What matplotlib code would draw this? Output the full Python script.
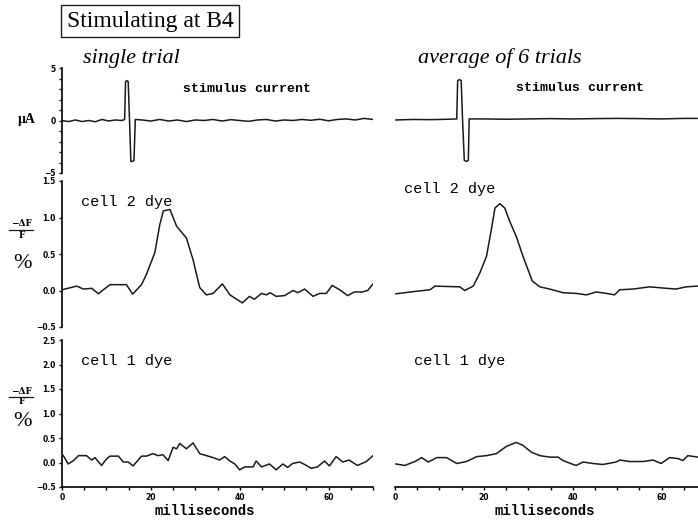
import matplotlib
matplotlib.use("Agg")
import matplotlib.pyplot as plt
from matplotlib.lines import Line2D

# stimulus current (uA)
stim_t_single = [0, 1.5, 3, 4.5, 6, 7.5, 9, 10.5, 12, 13.5, 14.1, 14.3, 14.6, 14.9, 15.2,
                 15.5, 15.8, 16.2, 16.5, 18, 20, 22, 24, 26, 28, 30, 32, 34, 36, 38, 40, 42,
                 44, 46, 48, 50, 52, 54, 56, 58, 60, 62, 64, 66, 68, 70]
stim_single = [0.0, -0.1, 0.05, -0.1, 0.0, -0.12, 0.1, -0.05, 0.05, 0.0, 0.1, 3.7, 3.8, 3.7, 0.0,
               -3.9, -3.9, -3.8, 0.1, 0.05, -0.05, 0.1, -0.05, 0.05, -0.1, 0.05, 0.0, 0.1, -0.05,
               0.08, 0.0, -0.08, 0.05, 0.1, -0.05, 0.05, 0.0, 0.1, 0.02, 0.12, -0.03, 0.1, 0.15,
               0.05, 0.2, 0.1]
stim_t_avg = [0.2, 4, 8, 12, 13.9, 14.1, 14.5, 14.9, 15.2, 15.6, 16.1, 16.5, 16.7, 20, 25, 30,
              35, 40, 45, 50, 55, 60, 65, 68]
stim_avg = [0.05, 0.1, 0.08, 0.12, 0.15, 3.8, 3.9, 3.8, 0.1, -3.8, -3.9, -3.8, 0.15, 0.15, 0.12,
            0.15, 0.18, 0.15, 0.18, 0.2, 0.18, 0.15, 0.2, 0.2]

# cell 2 dye, -dF/F %
c2_t_single = [0, 3.3, 4.8, 6.7, 8.2, 9.3, 10.8, 14.5, 15.9, 17.9, 19.0, 20.9, 22.0, 22.8, 24.3,
               25.8, 28.0, 29.5, 31.0, 32.5, 34.0, 36.1, 37.8, 40.6, 42.2, 43.3, 44.9, 46.0, 46.8,
               48.2, 50.1, 52.0, 53.1, 54.6, 56.5, 58.0, 59.5, 60.8, 62.5, 64.3, 65.8, 67.6, 68.8, 70.0]
c2_single = [0.01, 0.06, 0.02, 0.03, -0.045, 0.01, 0.08, 0.08, -0.05, 0.08, 0.22, 0.52, 0.90, 1.09,
             1.11, 0.88, 0.72, 0.42, 0.04, -0.06, -0.04, 0.09, -0.06, -0.17, -0.08, -0.12, -0.04,
             -0.06, -0.03, -0.08, -0.07, 0.0, -0.03, 0.02, -0.08, -0.04, -0.04, 0.07, 0.01, -0.07,
             -0.02, -0.02, 0.0, 0.09]
c2_t_avg = [0.2, 4.9, 7.9, 9.0, 14.6, 15.7, 17.6, 19.1, 20.6, 21.7, 22.5, 23.6, 24.7, 25.8, 27.3,
            28.8, 30.9, 32.6, 34.8, 37.8, 40.8, 43.1, 45.3, 47.6, 49.4, 50.6, 53.6, 57.3, 61.1,
            63.3, 65.5, 68.1]
c2_avg = [-0.045, -0.01, 0.01, 0.06, 0.05, 0.0, 0.06, 0.24, 0.47, 0.84, 1.13, 1.19, 1.13, 0.95,
          0.74, 0.47, 0.13, 0.05, 0.02, -0.03, -0.04, -0.06, -0.02, -0.04, -0.06, 0.01, 0.02, 0.05,
          0.03, 0.02, 0.05, 0.06]

# cell 1 dye, -dF/F %
c1_t_single = [0.3, 1.4, 2.6, 3.7, 5.5, 6.7, 7.4, 8.9, 10.0, 10.8, 12.7, 13.8, 14.9, 16.0, 17.9,
               19.0, 20.5, 21.6, 22.7, 23.9, 25.0, 25.8, 26.5, 28.0, 29.5, 31.0, 32.5, 34.0, 35.5,
               36.6, 37.8, 38.9, 40.0, 41.1, 43.0, 43.7, 44.9, 46.7, 48.2, 49.7, 50.8, 51.9, 53.5,
               54.6, 56.1, 57.5, 59.1, 60.2, 61.7, 63.2, 64.6, 66.5, 68.5, 70.0]
c1_single = [0.14, -0.03, 0.04, 0.14, 0.14, 0.05, 0.10, -0.06, 0.07, 0.13, 0.13, 0.01, 0.01, -0.07,
             0.13, 0.13, 0.18, 0.14, 0.16, 0.04, 0.31, 0.28, 0.39, 0.28, 0.40, 0.18, 0.14, 0.10,
             0.05, 0.12, 0.03, -0.03, -0.15, -0.09, -0.09, 0.03, -0.09, -0.03, -0.15, -0.03, -0.10,
             -0.02, 0.01, -0.04, -0.12, -0.09, 0.03, -0.07, 0.12, 0.01, 0.05, -0.06, 0.02, 0.14]
c1_t_avg = [0.2, 2.2, 4.5, 6.0, 7.5, 9.4, 11.6, 13.9, 16.1, 18.4, 20.6, 22.8, 25.1, 27.3, 28.8,
            30.7, 32.6, 34.8, 36.7, 37.8, 40.1, 40.8, 42.3, 44.5, 46.8, 49.8, 50.6, 52.8, 55.8,
            58.1, 59.9, 61.8, 63.7, 64.8, 65.9, 68.2]
c1_avg = [-0.03, -0.06, 0.02, 0.10, 0.01, 0.10, 0.10, -0.02, 0.02, 0.12, 0.14, 0.18, 0.33, 0.41,
          0.35, 0.21, 0.14, 0.11, 0.11, 0.04, -0.04, -0.06, 0.01, -0.02, -0.04, 0.01, 0.05, 0.02,
          0.02, 0.05, -0.02, 0.10, 0.08, 0.04, 0.14, 0.11]

x_ticks = [0, 20, 40, 60]

W, H = 698, 523
fig = plt.figure(figsize=(6.98, 5.23), dpi=100)


def px_box(x0, y_top, y_bot, w):
    return [x0 / W, 1 - y_bot / H, w / W, (y_bot - y_top) / H]


tick_font = dict(fontsize=5.5, fontweight='bold', family='DejaVu Sans')
rows = [(68, 173, (-5, 5), [-5, 0, 5], ['\u22125', '0', '5'], stim_t_single, stim_single, stim_t_avg, stim_avg),
        (181, 327, (-0.5, 1.5), [-0.5, 0, 0.5, 1.0, 1.5], ['\u22120.5', '0.0', '0.5', '1.0', '1.5'],
         c2_t_single, c2_single, c2_t_avg, c2_avg),
        (340, 487, (-0.5, 2.5), [-0.5, 0, 0.5, 1.0, 1.5, 2.0, 2.5],
         ['\u22120.5', '0.0', '0.5', '1.0', '1.5', '2.0', '2.5'],
         c1_t_single, c1_single, c1_t_avg, c1_avg)]

for i, (yt, yb, ylim, yticks, ylabels, ts, vs, ta, va) in enumerate(rows):
    last = i == 2
    axl = fig.add_axes(px_box(62, yt, yb, 311))
    axr = fig.add_axes(px_box(395, yt, yb, 311))
    axl.plot(ts, vs, color='#1a1a1a', lw=1.1)
    axr.plot(ta, va, color='#1a1a1a', lw=1.1)
    for ax in (axl, axr):
        ax.set_xlim(0, 70)
        ax.set_ylim(*ylim)
        ax.patch.set_alpha(0)
        for s in ('top', 'right'):
            ax.spines[s].set_visible(False)
        ax.spines['bottom'].set_visible(last)
        ax.spines['bottom'].set_linewidth(1.2)
        if last:
            ax.set_xticks(x_ticks)
            ax.set_xticklabels([str(v) for v in x_ticks], **tick_font)
            ax.set_xticks(range(0, 71, 5), minor=True)
            ax.tick_params(axis='x', which='both', length=2.5, width=1, pad=2)
        else:
            ax.set_xticks([])
    axl.spines['left'].set_linewidth(1.2)
    axl.set_yticks(yticks)
    axl.set_yticklabels(ylabels, **tick_font)
    if i == 0:
        axl.set_yticks(range(-5, 6), minor=True)
    axl.tick_params(axis='y', which='both', length=2.5, width=1, pad=2)
    axr.spines['left'].set_visible(False)
    axr.set_yticks([])

# x-axis labels
for xc in (205, 545):
    fig.text(xc / W, 1 - 511 / H, 'milliseconds', fontsize=10, fontweight='bold',
             family='Liberation Mono', ha='center', va='center')

# title box and column headers
fig.text(150 / W, 1 - 21 / H, 'Stimulating at B4', fontsize=17, family='Liberation Serif',
         ha='center', va='center',
         bbox=dict(boxstyle='square,pad=0.22', fc='white', ec='#1a1a1a', lw=1))
fig.text(131 / W, 1 - 58 / H, 'single trial', fontsize=16, family='Liberation Serif',
         style='italic', ha='center', va='center')
fig.text(500 / W, 1 - 58 / H, 'average of 6 trials', fontsize=16, family='Liberation Serif',
         style='italic', ha='center', va='center')

# panel labels
mono_b = dict(family='Liberation Mono', fontweight='bold', ha='center', va='center')
fig.text(247 / W, 1 - 89 / H, 'stimulus current', fontsize=9.5, **mono_b)
fig.text(580 / W, 1 - 88 / H, 'stimulus current', fontsize=9.5, **mono_b)
mono = dict(family='Liberation Mono', fontsize=11, ha='center', va='center')
fig.text(127 / W, 1 - 202 / H, 'cell 2 dye', **mono)
fig.text(450 / W, 1 - 189 / H, 'cell 2 dye', **mono)
fig.text(127 / W, 1 - 361 / H, 'cell 1 dye', **mono)
fig.text(460 / W, 1 - 361 / H, 'cell 1 dye', **mono)

# y-axis unit labels
fig.text(27 / W, 1 - 119 / H, '\u03bcA', fontsize=10, fontweight='bold',
         family='Liberation Serif', ha='center', va='center')
for y_top, y_line, y_f, y_pct in [(224, 230, 236, 264), (391, 397, 402, 421)]:
    fig.text(21 / W, 1 - y_top / H, '\u2212\u0394F', fontsize=6.5, fontweight='bold',
             family='DejaVu Serif', ha='center', va='center')
    fig.add_artist(Line2D([9 / W, 33 / W], [1 - y_line / H] * 2, color='#1a1a1a', lw=0.9))
    fig.text(22 / W, 1 - y_f / H, 'F', fontsize=6.5, fontweight='bold',
             family='DejaVu Serif', ha='center', va='center')
    fig.text(23 / W, 1 - y_pct / H, '%', fontsize=16, family='Liberation Serif',
             ha='center', va='center')

fig.savefig('out.png', dpi=100)
